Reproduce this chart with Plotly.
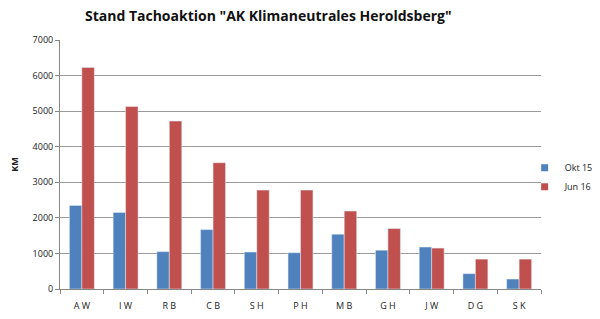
import plotly.graph_objects as go

categories = ["A W", "I W", "R B", "C B", "S H", "P H", "M B", "G H", "J W", "D G", "S K"]
okt15 = [2350, 2150, 1050, 1670, 1040, 1020, 1540, 1090, 1180, 430, 280]
jun16 = [6230, 5130, 4720, 3550, 2780, 2780, 2190, 1700, 1150, 840, 840]
y_ticks = [0, 1000, 2000, 3000, 4000, 5000, 6000, 7000]
series_names = ["Okt 15", "Jun 16"]
series_colors = ["#4F81BD", "#C0504D"]

fig = go.Figure()
for name, vals, col in zip(series_names, [okt15, jun16], series_colors):
    fig.add_trace(go.Bar(x=categories, y=vals, name=name, marker_color=col,
                         showlegend=False))
# small square legend markers like the original
for name, col in zip(series_names, series_colors):
    fig.add_trace(go.Scatter(x=[None], y=[None], mode="markers", name=name,
                             marker=dict(symbol="square", size=7, color=col)))

fig.update_layout(
    width=600, height=319,
    margin=dict(l=60, r=59, t=40, b=30, autoexpand=False),
    paper_bgcolor="white", plot_bgcolor="white",
    barmode="group", bargap=0.43, bargroupgap=0,
    font=dict(family="Open Sans", size=9, color="#222222"),
    title=dict(text='<b>Stand Tachoaktion "AK Klimaneutrales Heroldsberg"</b>',
               x=0.433, xref="paper", xanchor="center", y=0.95, yanchor="middle",
               font=dict(family="Open Sans", size=14, color="#111111")),
    legend=dict(x=0.966, y=0.545, xanchor="left", yanchor="top",
                font=dict(size=9), itemwidth=30, tracegroupgap=4,
                bgcolor="rgba(0,0,0,0)"),
    showlegend=True,
)
fig.update_xaxes(
    showline=True, linecolor="#868686", linewidth=1,
    ticks="outside", tickson="boundaries", ticklen=4, tickcolor="#868686",
    showgrid=False, tickfont=dict(size=9), ticklabelstandoff=8,
    automargin=False,
)
fig.update_yaxes(
    range=[0, 7000], tickvals=y_ticks,
    showline=True, linecolor="#868686", linewidth=1,
    ticks="outside", ticklen=4, tickcolor="#868686",
    showgrid=True, gridcolor="#9a9a9a", gridwidth=1,
    zeroline=False, tickfont=dict(size=9),
    title=dict(text="<b>KM</b>", font=dict(size=9), standoff=12),
    automargin=False,
)

fig.write_html("out.html")
